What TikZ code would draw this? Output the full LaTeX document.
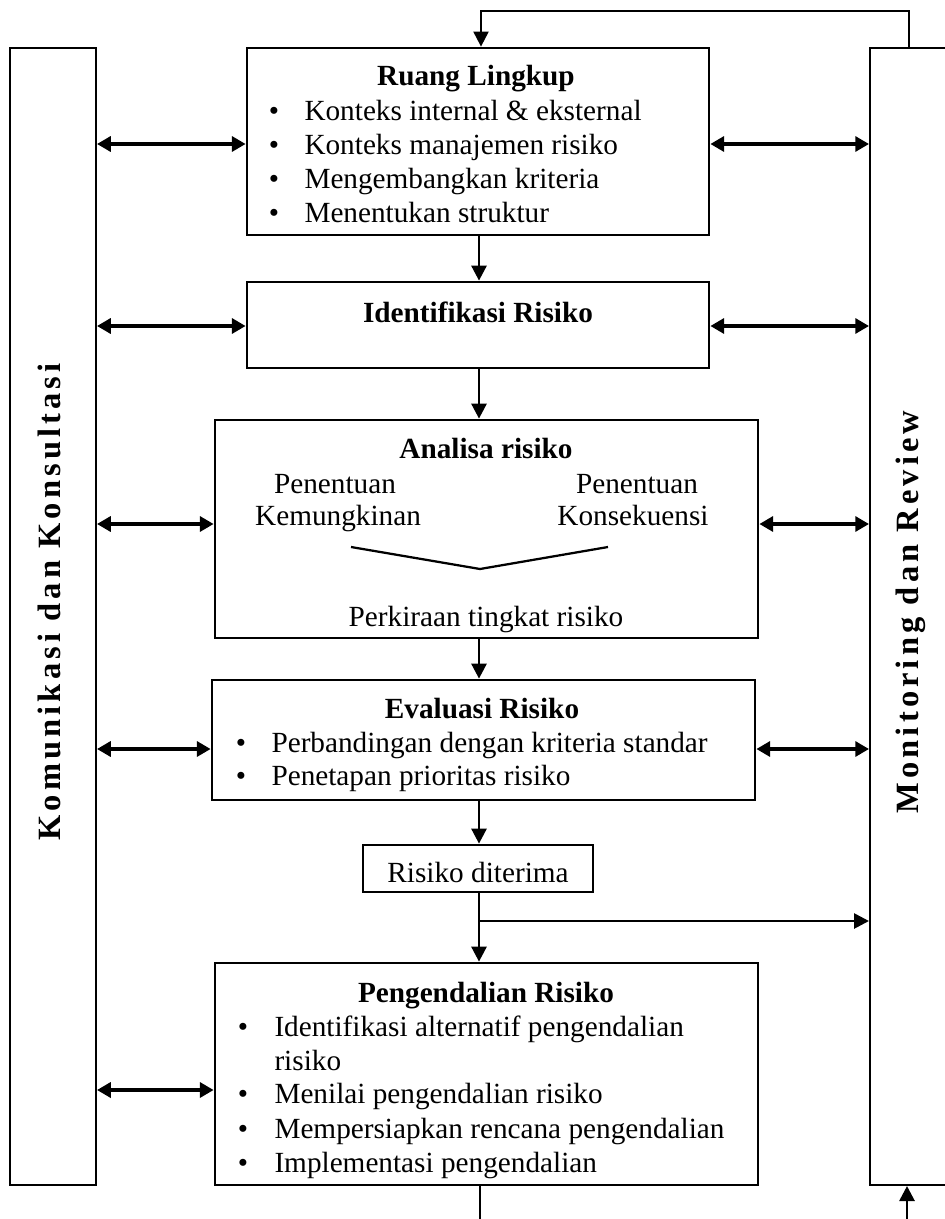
\documentclass[tikz,border=0pt]{standalone}
\usepackage{fontspec}
\setmainfont{Liberation Serif}
\usetikzlibrary{arrows.meta,fit}
\newcommand\body{\fontsize{11.7}{13.6}\selectfont}
\newcommand\gp{\hspace{1.65pt}}

\begin{document}
\begin{tikzpicture}[x=0.4pt,y=-0.4pt,
  frame/.style={draw, line width=1.1pt, inner sep=0pt},
  bar/.style={draw, line width=0.8pt, inner sep=0pt},
  ctxt/.style={inner sep=0pt, anchor=base, font=\body},
  ltxt/.style={inner sep=0pt, anchor=base west, font=\body},
  ttl/.style={inner sep=0pt, anchor=base, font=\body\bfseries},
  vlabel/.style={inner sep=0pt, anchor=base, rotate=90, font=\fontsize{13}{15}\selectfont\bfseries},
  dbl/.style={{Triangle[length=5.5pt,width=6pt]}-{Triangle[length=5.5pt,width=6pt]}, line width=1.3pt},
  flow/.style={-{Triangle[length=6pt,width=6pt]}, line width=1.1pt},
  plain/.style={line width=1.1pt},
]
\useasboundingbox (0,0) rectangle (945,1219);

% side bars
\node[bar, fit={(10,48) (96,1185)}] (kom) {};
\node[bar, fit={(870,48) (955,1185)}] (mon) {};
\node[vlabel] (komtxt) at (60,602) {K\gp o\gp m\gp u\gp n\gp i\gp k\gp a\gp s\gp i\gp\ d\gp a\gp n\gp\ K\gp o\gp n\gp s\gp u\gp l\gp t\gp a\gp s\gp i};
\node[vlabel] (montxt) at (918,612) {M\gp o\gp n\gp i\gp t\gp o\gp r\gp i\gp n\gp g\gp\ d\gp a\gp n\gp\ R\gp e\gp v\gp i\gp e\gp w};

% process boxes
\node[frame, fit={(247,48) (709,235)}] (ruang) {};
\node[frame, fit={(247,282) (709,368)}] (ident) {};
\node[frame, fit={(215,420) (758,638)}] (anal) {};
\node[frame, fit={(212,680) (755,800)}] (eval) {};
\node[frame, fit={(363,845) (593,892)}] (risk) {};
\node[frame, fit={(215,963) (758,1185)}] (peng) {};

% Ruang Lingkup
\node[ttl] (rt) at (476,86) {Ruang Lingkup};
\foreach \i/\y/\t in {1/120/{Konteks internal \& eksternal},
                      2/154/{Konteks manajemen risiko},
                      3/188/{Mengembangkan kriteria},
                      4/222/{Menentukan struktur}} {
  \node[ctxt] (rb\i) at (274,\y) {\textbullet};
  \node[ltxt] (rl\i) at (304,\y) {\t};
}

% Identifikasi Risiko
\node[ttl] (it) at (478,322) {Identifikasi Risiko};

% Analisa risiko
\node[ttl] (at) at (486,458) {Analisa risiko};
\node[ctxt] (al1) at (335,493) {Penentuan};
\node[ctxt] (al2) at (338,525) {Kemungkinan};
\node[ctxt] (ar1) at (637,493) {Penentuan};
\node[ctxt] (ar2) at (633,525) {Konsekuensi};
\draw[line width=0.9pt] (351,547) -- (480,569) -- (608,547);
\node[ctxt] (ab) at (486,626) {Perkiraan tingkat risiko};

% Evaluasi Risiko
\node[ttl] (et) at (482,718) {Evaluasi Risiko};
\foreach \i/\y/\t in {1/752/{Perbandingan dengan kriteria standar},
                      2/785/{Penetapan prioritas risiko}} {
  \node[ctxt] (eb\i) at (241,\y) {\textbullet};
  \node[ltxt] (el\i) at (271,\y) {\t};
}

% Risiko diterima
\node[ctxt] (rd) at (478,882) {Risiko diterima};

% Pengendalian Risiko
\node[ttl] (pt) at (486,1002) {Pengendalian Risiko};
\foreach \i/\y/\t in {1/1036/{Identifikasi alternatif pengendalian},
                      3/1103/{Menilai pengendalian risiko},
                      4/1138/{Mempersiapkan rencana pengendalian},
                      5/1172/{Implementasi pengendalian}} {
  \node[ctxt] (pb\i) at (243,\y) {\textbullet};
  \node[ltxt] (pl\i) at (274,\y) {\t};
}
\node[ltxt] (pl2) at (274,1070) {risiko};

% main flow
\coordinate (sp) at (479,0);
\draw[flow] (ruang.south -| sp) -- (ident.north -| sp);
\draw[flow] (ident.south -| sp) -- (anal.north -| sp);
\draw[flow] (anal.south -| sp) -- (eval.north -| sp);
\draw[flow] (eval.south -| sp) -- (risk.north -| sp);
\draw[flow] (risk.south -| sp) -- (peng.north -| sp);
\coordinate (br) at (479,921);
\draw[flow] (br) -- (mon.west |- br);

% feedback loop over the top
\coordinate (loopR) at (909,11);
\coordinate (loopL) at (481,11);
\draw[flow, line width=0.8pt] (mon.north -| loopR) -- (loopR) -- (loopL) -- (ruang.north -| loopL);

% loop ends at the bottom
\coordinate (outL) at (480,1230);
\coordinate (outR) at (907,1230);
\draw[plain] (peng.south -| outL) -- (outL);
\draw[flow] (outR) -- (mon.south -| outR);

% communication links
\foreach \n/\y in {ruang/144, ident/326, anal/524, eval/749, peng/1090} {
  \coordinate (h) at (0,\y);
  \draw[dbl] (kom.east |- h) -- (\n.west |- h);
}
\foreach \n/\y in {ruang/144, ident/326, anal/524, eval/749} {
  \coordinate (h) at (0,\y);
  \draw[dbl] (\n.east |- h) -- (mon.west |- h);
}
\end{tikzpicture}
\end{document}
